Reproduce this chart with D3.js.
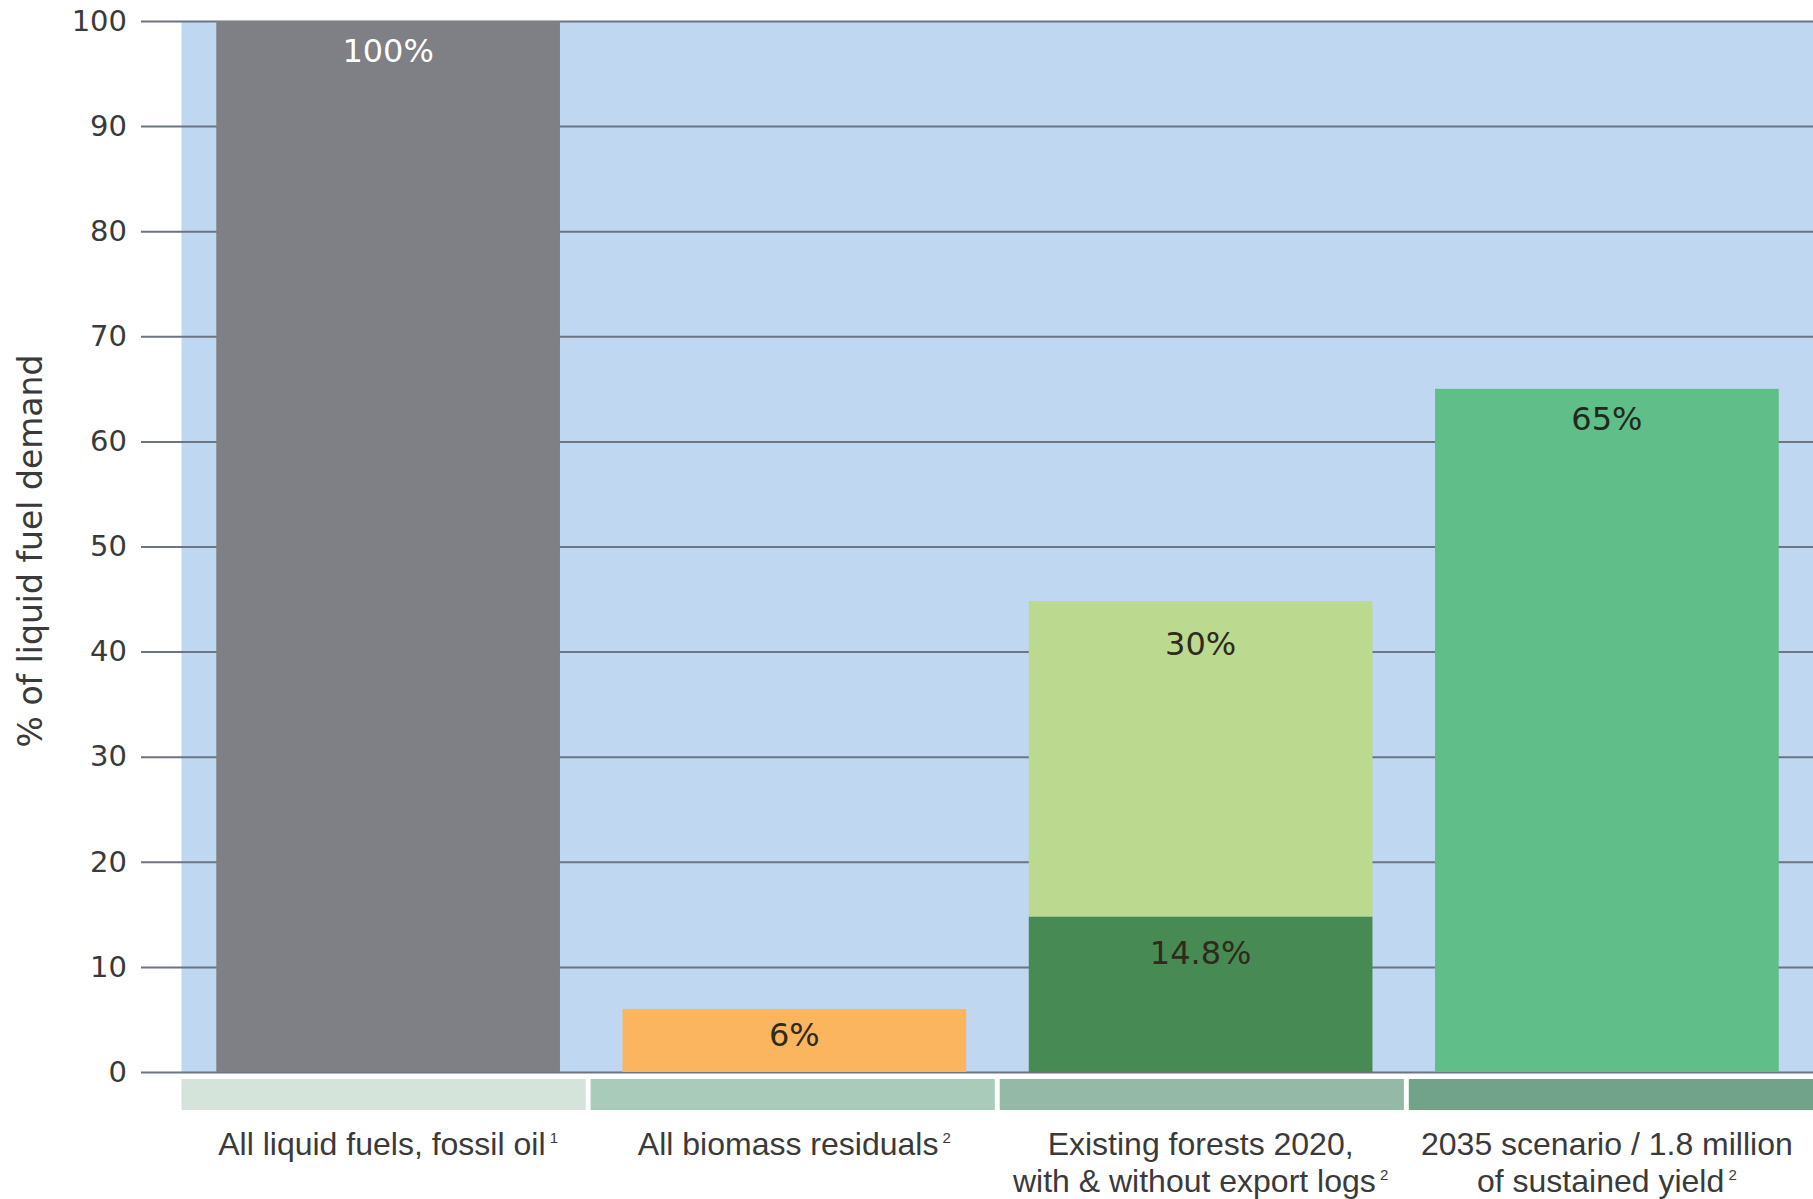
<!DOCTYPE html>
<html>
<head>
<meta charset="utf-8">
<script src="https://cdn.jsdelivr.net/npm/d3@7"></script>
<style>
  html, body { margin: 0; padding: 0; background: #ffffff; }
  svg { display: block; }
</style>
</head>
<body>
<svg id="chart" width="1813" height="1199"></svg>
<script>
// ---- data ----
const categories = ["All liquid fuels, fossil oil", "All biomass residuals", "Existing forests 2020, with & without export logs", "2035 scenario / 1.8 million of sustained yield"];
const categoryLines = [["All liquid fuels, fossil oil"], ["All biomass residuals"], ["Existing forests 2020,", "with & without export logs"], ["2035 scenario / 1.8 million", "of sustained yield"]];
const footnotes = ["1", "2", "2", "2"];
const baseValues = [100, 6, 14.8, 65];
const baseLabels = ["100%", "6%", "14.8%", "65%"];
const upperValues = [0, 0, 30, 0];
const upperLabels = ["", "", "30%", ""];
const yTicks = [0, 10, 20, 30, 40, 50, 60, 70, 80, 90, 100];
const yTitle = "% of liquid fuel demand";

// ---- styles ----
const baseColors = ["#7e8085", "#fbb55f", "#478a53", "#60be89"];
const upperColor = "#bbd98f";
const labelColors = ["#ffffff", "#2e2a1c", "#2e2a1c", "#1f2a1c"];
const stripColors = ["#d5e4db", "#a9cbb9", "#95b9a7", "#70a38a"];
const bgColor = "#bfd7f0";
const gridColor = "#6c7581";
const textColor = "#3a3a3a";

const svg = d3.select("#chart");
const W = 1813;

const y = d3.scaleLinear().domain([0, 100]).range([1072, 21]);
const x = d3.scaleBand().domain(categories).range([185, 1810]).paddingInner(0.154).paddingOuter(0.077);
const xs = d3.scaleBand().domain(categories).range([181.5, 1813]).paddingInner(0.012).paddingOuter(0);

// background panel
svg.append("rect")
  .attr("x", 181.5).attr("y", y(100))
  .attr("width", W - 181.5).attr("height", y(0) - y(100))
  .attr("fill", bgColor);

// axis with gridlines
const axis = svg.append("g")
  .attr("transform", `translate(${W},0)`)
  .call(d3.axisLeft(y).tickValues(yTicks).tickSize(W - 141).tickPadding(14));
axis.select(".domain").remove();
axis.selectAll(".tick line").attr("stroke", gridColor).attr("stroke-width", 2);
axis.selectAll(".tick text")
  .attr("fill", textColor)
  .style("font-family", "'DejaVu Sans', sans-serif")
  .style("font-size", "29px");

// bars
const rows = categories.map((c, i) => ({c, i, base: baseValues[i], up: upperValues[i]}));
const bars = svg.append("g");
bars.selectAll("rect.base").data(rows).join("rect")
  .attr("class", "base")
  .attr("x", d => x(d.c)).attr("width", x.bandwidth())
  .attr("y", d => y(d.base)).attr("height", d => y(0) - y(d.base))
  .attr("fill", d => baseColors[d.i]);
bars.selectAll("rect.up").data(rows.filter(d => d.up > 0)).join("rect")
  .attr("class", "up")
  .attr("x", d => x(d.c)).attr("width", x.bandwidth())
  .attr("y", d => y(d.base + d.up)).attr("height", d => y(d.base) - y(d.base + d.up))
  .attr("fill", upperColor);

// value labels
const lab = svg.append("g")
  .style("font-family", "'DejaVu Sans', sans-serif")
  .style("font-size", "32px")
  .attr("text-anchor", "middle");
lab.selectAll("text.b").data(rows).join("text")
  .attr("class", "b")
  .attr("x", d => x(d.c) + x.bandwidth() / 2)
  .attr("y", d => y(d.base) + (d.base < 10 ? 37 : d.base < 20 ? 48 : 41))
  .attr("fill", d => labelColors[d.i])
  .text(d => baseLabels[d.i]);
lab.selectAll("text.u").data(rows.filter(d => d.up > 0)).join("text")
  .attr("class", "u")
  .attr("x", d => x(d.c) + x.bandwidth() / 2)
  .attr("y", d => y(d.base + d.up) + 54)
  .attr("fill", "#2e2a1c")
  .text(d => upperLabels[d.i]);

// category strips
svg.append("g").selectAll("rect").data(rows).join("rect")
  .attr("x", d => xs(d.c)).attr("width", xs.bandwidth())
  .attr("y", 1079).attr("height", 31)
  .attr("fill", d => stripColors[d.i]);

// category labels
const cl = svg.append("g")
  .style("font-family", "'Liberation Sans', Arial, sans-serif")
  .style("font-size", "32px")
  .attr("fill", textColor)
  .attr("text-anchor", "middle");
rows.forEach(d => {
  const lines = categoryLines[d.i];
  lines.forEach((ln, k) => {
    const t = cl.append("text")
      .attr("x", x(d.c) + x.bandwidth() / 2)
      .attr("y", 1155 + k * 37);
    t.append("tspan").text(ln);
    if (k === lines.length - 1) {
      t.append("tspan").text("\u00a0" + footnotes[d.i])
        .style("font-size", "15px")
        .attr("dy", -12);
    }
  });
});

// y title
svg.append("text")
  .attr("transform", "translate(42,551) rotate(-90)")
  .attr("text-anchor", "middle")
  .attr("fill", textColor)
  .style("font-family", "'DejaVu Sans', sans-serif")
  .style("font-size", "33px")
  .text(yTitle);
</script>
</body>
</html>
